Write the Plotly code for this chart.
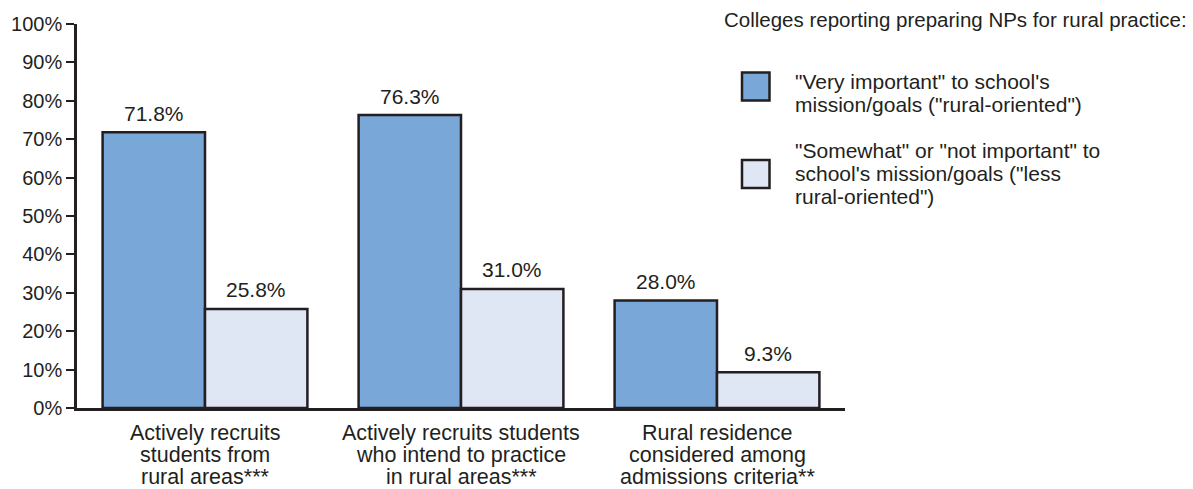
import plotly.graph_objects as go

categories = [
    "Actively recruits<br>students from<br>rural areas***",
    "Actively recruits students<br>who intend to practice<br>in rural areas***",
    "Rural residence<br>considered among<br>admissions criteria**",
]
rural_oriented = [71.8, 76.3, 28.0]
less_rural = [25.8, 31.0, 9.3]
series_names = [
    "\"Very important\" to school's<br>mission/goals (\"rural-oriented\")",
    "\"Somewhat\" or \"not important\" to<br>school's mission/goals (\"less<br>rural-oriented\")",
]
legend_title = "Colleges reporting preparing NPs for rural practice:"
y_ticks = [0, 10, 20, 30, 40, 50, 60, 70, 80, 90, 100]

DARK = "#231f20"
BLUE = "#79a7d8"
LIGHT = "#dfe6f4"
FONT = "Liberation Sans, Arial, sans-serif"

L, R, T, B = 77, 348, 24, 81
W, H = 1193, 489
PW, PH = W - L - R, H - T - B

def px_x(x):
    return (x - L) / PW

def px_y(y):
    return 1 - (y - T) / PH

fig = go.Figure()
series = [(rural_oriented, BLUE, series_names[0], -1), (less_rural, LIGHT, series_names[1], 1)]
for vals, col, name, side in series:
    fig.add_trace(go.Bar(
        x=categories, y=vals, name=name,
        marker=dict(color=col, line=dict(color=DARK, width=2.5)),
        showlegend=False, hoverinfo="x+y",
    ))
    # value labels above each bar
    for cat, v in zip(categories, vals):
        fig.add_annotation(x=cat, y=v, xref="x", yref="y", xshift=side * PW / 3 * 0.2,
                           yshift=19, yanchor="middle", xanchor="center",
                           text=f"{v:.1f}%", showarrow=False,
                           font=dict(size=21, color=DARK, family=FONT))

# category labels (one annotation per line to control line spacing)
for cat in categories:
    for i, line in enumerate(cat.split("<br>")):
        fig.add_annotation(x=cat, y=0, xref="x", yref="y", yshift=-(25 + 22 * i),
                           yanchor="middle", xanchor="center", text=line, showarrow=False,
                           font=dict(size=21.5, color=DARK, family=FONT))

fig.update_layout(
    width=W, height=H,
    margin=dict(l=L, r=R, t=T, b=B, autoexpand=False),
    paper_bgcolor="white", plot_bgcolor="white",
    barmode="group", bargap=0.2, bargroupgap=0,
    font=dict(family=FONT, size=20, color=DARK),
    xaxis=dict(
        showline=True, linecolor=DARK, linewidth=2.5, ticks="",
        range=[-0.5, 2.5], showticklabels=False, automargin=False,
        showgrid=False,
    ),
    yaxis=dict(
        range=[0, 100], tickvals=y_ticks, ticktext=[f"{t}%" for t in y_ticks],
        showline=True, linecolor=DARK, linewidth=2.5,
        ticks="outside", ticklen=8, tickwidth=2, tickcolor=DARK, automargin=False,
        showgrid=False, zeroline=False, tickfont=dict(size=20, color=DARK),
    ),
)

# Legend drawn manually
fig.add_annotation(xref="paper", yref="paper", x=px_x(1189), y=px_y(20), xanchor="right", yanchor="middle",
                   text=legend_title, showarrow=False, font=dict(size=20.5, color=DARK))
legend_rows = [(86.5, 81, BLUE, series_names[0]), (174, 150, LIGHT, series_names[1])]
for ysq, ytext, col, name in legend_rows:
    fig.add_shape(type="rect", xref="paper", yref="paper",
                  x0=px_x(742), x1=px_x(769.5), y0=px_y(ysq + 14), y1=px_y(ysq - 14),
                  fillcolor=col, line=dict(color=DARK, width=2.5))
    for i, line in enumerate(name.split("<br>")):
        fig.add_annotation(xref="paper", yref="paper", x=px_x(793), y=px_y(ytext + 23.5 * i),
                           xanchor="left", yanchor="middle", align="left", text=line,
                           showarrow=False, font=dict(size=21, color=DARK))

fig.write_html("out.html")
